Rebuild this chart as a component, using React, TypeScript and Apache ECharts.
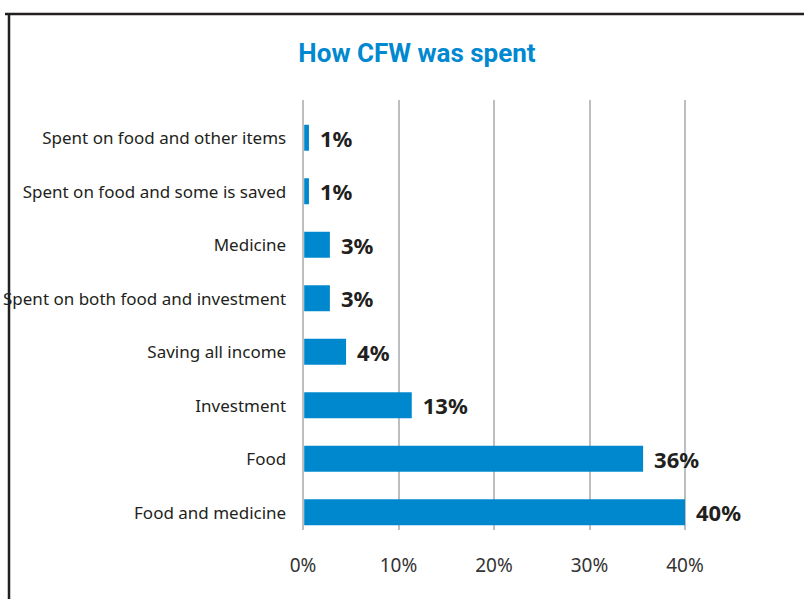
import React, { useEffect, useRef } from "react";
import * as echarts from "echarts";

const categories = [
  "Spent on food and other items",
  "Spent on food and some is saved",
  "Medicine",
  "Spent on both food and investment",
  "Saving all income",
  "Investment",
  "Food",
  "Food and medicine",
];
const barValues = [0.5, 0.5, 2.7, 2.7, 4.4, 11.3, 35.6, 40];
const valueLabels = ["1%", "1%", "3%", "3%", "4%", "13%", "36%", "40%"];
const tickMin = 0;
const tickMax = 40;
const tickInterval = 10;

export default function App() {
  const ref = useRef<HTMLDivElement>(null);
  useEffect(() => {
    const chart = echarts.init(ref.current!, null, { renderer: "svg" });
    const left = 303;
    const width = 382;
    chart.setOption({
      animation: false,
      backgroundColor: "#ffffff",
      title: {
        text: "How CFW was spent",
        left: 412,
        textAlign: "center",
        top: 35,
        textStyle: {
          color: "#0089d0",
          fontFamily: "Roboto",
          fontWeight: "bold",
          fontSize: 26,
        },
      },
      graphic: [
        {
          type: "line",
          shape: { x1: 5, y1: 14, x2: 804, y2: 14 },
          style: { stroke: "#231f20", lineWidth: 2.5 },
          z: 100,
        },
        {
          type: "line",
          shape: { x1: 9, y1: 13, x2: 9, y2: 599 },
          style: { stroke: "#231f20", lineWidth: 2.5 },
          z: 100,
        },
      ],
      grid: [
        { left, width, top: 100, height: 430 },
        { left, width, top: 111, height: 428 },
      ],
      xAxis: [
        {
          type: "value",
          gridIndex: 0,
          min: tickMin,
          max: tickMax,
          interval: tickInterval,
          axisLine: { show: false },
          axisTick: { show: false },
          splitLine: { show: true, lineStyle: { color: "#a7a9ac", width: 1.5 } },
          axisLabel: {
            formatter: "{value}%",
            color: "#333333",
            fontFamily: "Noto Sans",
            fontSize: 19,
            margin: 25,
          },
        },
        {
          type: "value",
          gridIndex: 1,
          min: tickMin,
          max: tickMax,
          show: false,
        },
      ],
      yAxis: [
        { type: "category", gridIndex: 0, show: false, data: categories, inverse: true },
        {
          type: "category",
          gridIndex: 1,
          data: categories,
          inverse: true,
          axisLine: { show: false },
          axisTick: { show: false },
          axisLabel: {
            color: "#231f20",
            fontFamily: "Noto Sans",
            fontSize: 17,
            margin: 18,
          },
        },
      ],
      series: [
        {
          type: "bar",
          xAxisIndex: 1,
          yAxisIndex: 1,
          data: barValues,
          barWidth: 26,
          itemStyle: { color: "#0088cf" },
          label: {
            show: true,
            position: "right",
            distance: 11,
            formatter: (p: any) => valueLabels[p.dataIndex],
            color: "#231f20",
            fontFamily: "Noto Sans",
            fontWeight: "bold",
            fontSize: 22,
          },
        },
      ],
    });
    return () => chart.dispose();
  }, []);
  return (
    <div
      ref={ref}
      style={{ position: "absolute", left: 0, top: 0, width: 804, height: 599 }}
    />
  );
}
